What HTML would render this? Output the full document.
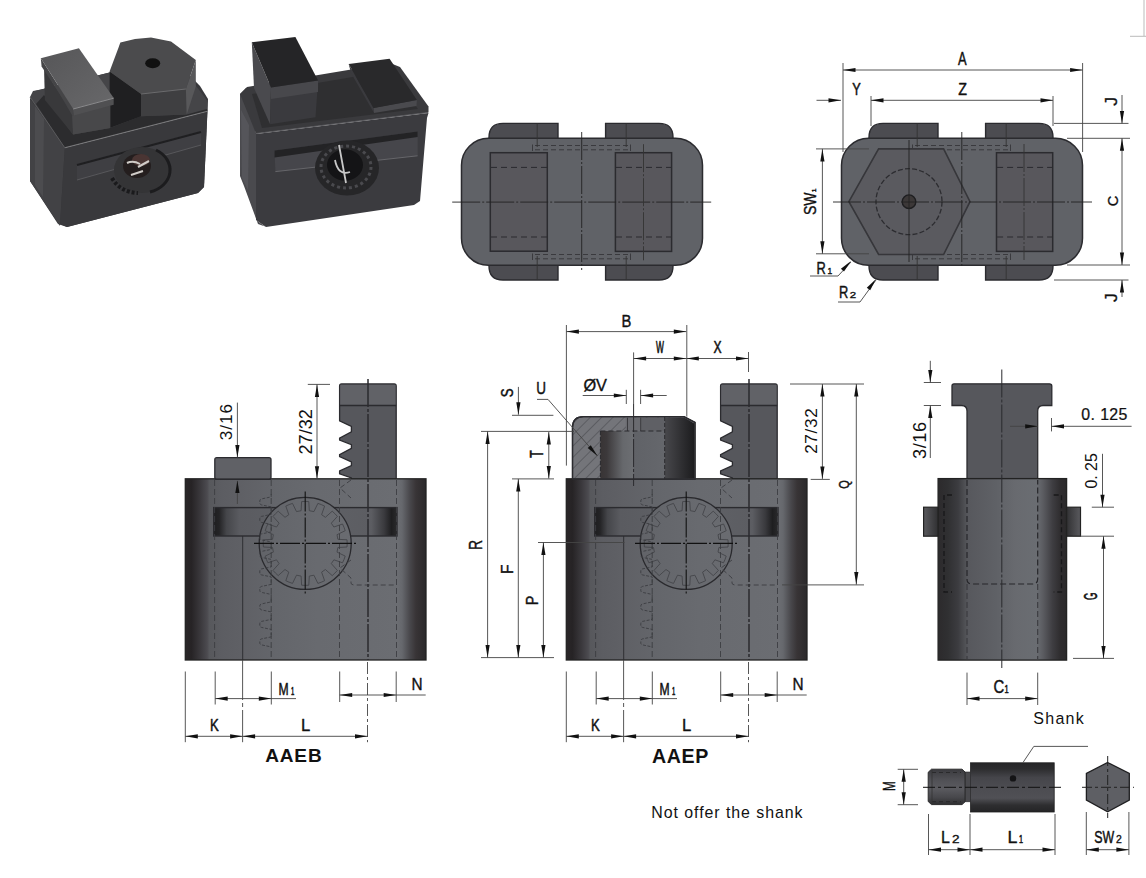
<!DOCTYPE html><html><head><meta charset="utf-8"><style>
html,body{margin:0;padding:0;background:#fff;}
svg{display:block;font-family:"Liberation Sans", sans-serif;}
</style></head><body>
<svg width="1146" height="878" viewBox="0 0 1146 878">
<rect width="1146" height="878" fill="#fff"/>
<defs>
<linearGradient id="bodyg" gradientUnits="userSpaceOnUse" x1="185.3" x2="426.0" y1="0" y2="0"><stop offset="0.0000" stop-color="#2a2628"/><stop offset="0.0249" stop-color="#262325"/><stop offset="0.0623" stop-color="#3a383c"/><stop offset="0.0914" stop-color="#4c4b50"/><stop offset="0.0997" stop-color="#57585c"/><stop offset="0.1496" stop-color="#5c5d62"/><stop offset="0.2300" stop-color="#5f6065"/><stop offset="0.3800" stop-color="#64666b"/><stop offset="0.5500" stop-color="#686a6f"/><stop offset="0.8837" stop-color="#6b6d72"/><stop offset="0.9003" stop-color="#66686d"/><stop offset="0.9335" stop-color="#48474b"/><stop offset="0.9585" stop-color="#383436"/><stop offset="1.0000" stop-color="#2b292b"/></linearGradient><linearGradient id="bodyg2" gradientUnits="userSpaceOnUse" x1="566.3" x2="807.0" y1="0" y2="0"><stop offset="0.0000" stop-color="#2a2628"/><stop offset="0.0249" stop-color="#262325"/><stop offset="0.0623" stop-color="#3a383c"/><stop offset="0.0914" stop-color="#4c4b50"/><stop offset="0.0997" stop-color="#57585c"/><stop offset="0.1496" stop-color="#5c5d62"/><stop offset="0.2300" stop-color="#5f6065"/><stop offset="0.3800" stop-color="#64666b"/><stop offset="0.5500" stop-color="#686a6f"/><stop offset="0.8837" stop-color="#6b6d72"/><stop offset="0.9003" stop-color="#66686d"/><stop offset="0.9335" stop-color="#48474b"/><stop offset="0.9585" stop-color="#383436"/><stop offset="1.0000" stop-color="#2b292b"/></linearGradient><linearGradient id="bodyg3" gradientUnits="userSpaceOnUse" x1="938.1" x2="1066.6" y1="0" y2="0"><stop offset="0.0000" stop-color="#2c2a2c"/><stop offset="0.0778" stop-color="#303032"/><stop offset="0.1556" stop-color="#3c3c40"/><stop offset="0.2101" stop-color="#505155"/><stop offset="0.2335" stop-color="#57585d"/><stop offset="0.4500" stop-color="#5f6166"/><stop offset="0.6000" stop-color="#686a6f"/><stop offset="0.7665" stop-color="#6a6d72"/><stop offset="0.8132" stop-color="#5c5d62"/><stop offset="0.8911" stop-color="#3e3d41"/><stop offset="0.9533" stop-color="#2e2c2e"/><stop offset="1.0000" stop-color="#2b292b"/></linearGradient>
<linearGradient id="slotg" x1="0" x2="1" y1="0" y2="0">
 <stop offset="0" stop-color="#1e1e20"/>
 <stop offset="0.03" stop-color="#242426"/>
 <stop offset="0.07" stop-color="#45464a"/>
 <stop offset="0.14" stop-color="#5a5b60"/>
 <stop offset="0.5" stop-color="#606267"/>
 <stop offset="0.86" stop-color="#5c5d62"/>
 <stop offset="0.93" stop-color="#3a3a3e"/>
 <stop offset="0.97" stop-color="#1e1e20"/>
 <stop offset="1" stop-color="#2a2a2c"/>
</linearGradient>
<linearGradient id="boreg" x1="0" x2="1" y1="0" y2="0">
 <stop offset="0" stop-color="#383435"/>
 <stop offset="0.1" stop-color="#3c393b"/>
 <stop offset="0.35" stop-color="#66686c"/>
 <stop offset="0.5" stop-color="#6c6e72"/>
 <stop offset="0.52" stop-color="#606267"/>
 <stop offset="1" stop-color="#65676c"/>
</linearGradient>
<linearGradient id="nutrg" x1="0" x2="1" y1="0" y2="0">
 <stop offset="0" stop-color="#48484c"/>
 <stop offset="1" stop-color="#1c1c1e"/>
</linearGradient>
<linearGradient id="shankg" x1="0" x2="0" y1="0" y2="1">
 <stop offset="0" stop-color="#262628"/>
 <stop offset="0.12" stop-color="#2c2c2e"/>
 <stop offset="0.3" stop-color="#45454a"/>
 <stop offset="0.5" stop-color="#4c4c51"/>
 <stop offset="0.72" stop-color="#505055"/>
 <stop offset="0.86" stop-color="#2e2e30"/>
 <stop offset="1" stop-color="#242426"/>
</linearGradient>
<linearGradient id="threadg" x1="0" x2="0" y1="0" y2="1">
 <stop offset="0" stop-color="#3a3a3e"/><stop offset="0.3" stop-color="#505055"/><stop offset="0.55" stop-color="#5a5a5f"/><stop offset="0.8" stop-color="#47474b"/><stop offset="1" stop-color="#2e2e30"/>
</linearGradient>
<linearGradient id="tabl" x1="0" x2="1" y1="0" y2="0"><stop offset="0" stop-color="#5a5a5e"/><stop offset="1" stop-color="#2e2e30"/></linearGradient>
<linearGradient id="tabr" x1="0" x2="1" y1="0" y2="0"><stop offset="0" stop-color="#2e2e30"/><stop offset="1" stop-color="#5a5a5e"/></linearGradient>
<pattern id="hatch" patternUnits="userSpaceOnUse" width="8" height="8" patternTransform="rotate(45)">
 <rect width="8" height="8" fill="#74757a"/>
 <line x1="0" y1="0" x2="0" y2="8" stroke="#45464b" stroke-width="1.1"/>
</pattern>
<linearGradient id="p1top" x1="0" x2="1" y1="0" y2="1">
 <stop offset="0" stop-color="#565658"/><stop offset="1" stop-color="#68686a"/>
</linearGradient>
</defs>
<g>
<polygon points="30.0,99.0 35.0,91.0 172.0,57.0 200.0,86.0 208.0,99.0 204.0,187.0 198.0,193.0 67.0,227.0 58.0,224.0 30.0,181.0" fill="#38383b" stroke="none" stroke-width="0" />
<polygon points="30.0,99.0 64.8,147.8 60.0,226.0 30.0,181.0" fill="#424245" stroke="none" stroke-width="0" />
<polygon points="35.0,106.0 44.0,119.0 43.0,197.0 35.0,185.0" fill="#4c4c4f" stroke="none" stroke-width="0" />
<polygon points="30.0,97.0 33.0,91.0 41.0,89.5 172.0,57.0 199.0,89.7 207.4,101.0 207.4,111.3 64.8,147.8" fill="#454548" stroke="none" stroke-width="0" />
<polygon points="44.0,95.0 73.0,134.5 110.0,128.0 141.0,116.3 186.7,114.6 207.0,109.0 207.4,111.3 64.8,147.8 36.0,104.0" fill="#2c2c2e" stroke="none" stroke-width="0" />
<line x1="64.8" y1="147.8" x2="207.4" y2="111.3" stroke="#78787a" stroke-width="1.2" />
<line x1="30.0" y1="97.0" x2="64.8" y2="147.8" stroke="#5a5a5c" stroke-width="1" />
<polygon points="64.8,148.5 207.4,112.0 204.0,187.0 198.0,193.0 67.0,227.0 60.0,224.0" fill="#39393c" stroke="none" stroke-width="0" />
<polygon points="77.0,164.0 201.0,131.0 201.0,145.0 77.0,180.0" fill="#3f3f43" stroke="none" stroke-width="0" />
<line x1="77.0" y1="165.0" x2="201.0" y2="132.0" stroke="#1f1f21" stroke-width="2.2" />
<line x1="77.0" y1="180.0" x2="201.0" y2="145.0" stroke="#5a5a5e" stroke-width="0.9" />
<ellipse cx="142" cy="170" rx="28" ry="23" fill="#343436"/>
<path d="M156,150 A28,23 0 0 1 150,192" fill="none" stroke="#1c1c1e" stroke-width="3"/>
<path d="M112,178 Q120,192 138,193" fill="none" stroke="#1a1a1c" stroke-width="4" stroke-dasharray="3 2"/>
<ellipse cx="137" cy="166" rx="14" ry="12" fill="#241e1e"/>
<ellipse cx="141" cy="160" rx="9" ry="6" fill="#4a3533"/>
<path d="M127,163 Q133,160 140,164 M138,167 L149,161 M131,175 L143,171" stroke="#d0ccc8" stroke-width="2" fill="none"/>
<polygon points="109.6,71.5 141.1,93.9 141.1,116.3 109.6,127.9" fill="#1f1f21" stroke="none" stroke-width="0" />
<polygon points="141.1,93.9 185.9,88.9 186.7,114.6 141.1,116.3" fill="#3f3f41" stroke="none" stroke-width="0" />
<polygon points="185.9,88.9 195.8,59.9 195.8,86.4 186.7,114.6" fill="#58585a" stroke="none" stroke-width="0" />
<polygon points="109.6,71.5 120.4,42.5 135.0,39.0 151.0,37.5 171.0,41.6 195.8,59.9 185.9,88.9 141.1,93.9" fill="#4b4b4d" stroke="none" stroke-width="0" />
<line x1="141.1" y1="94.0" x2="185.9" y2="89.0" stroke="#6a6a6c" stroke-width="1" />
<ellipse cx="152.7" cy="63.2" rx="7.5" ry="5" fill="#111"/>
<polygon points="44.0,67.3 72.3,115.4 73.1,134.5 44.9,100.0" fill="#39393b" stroke="none" stroke-width="0" />
<polygon points="72.3,115.4 110.4,105.5 110.4,127.9 73.1,134.5" fill="#48484a" stroke="none" stroke-width="0" />
<polygon points="40.8,58.2 73.1,108.8 73.9,115.4 41.6,66.5" fill="#454547" stroke="none" stroke-width="0" />
<polygon points="73.1,108.8 113.7,98.0 113.7,104.7 73.9,115.4" fill="#505052" stroke="none" stroke-width="0" />
<polygon points="40.8,58.2 78.9,48.3 113.7,98.0 73.1,108.8" fill="url(#p1top)" stroke="none" stroke-width="0" />
<line x1="73.1" y1="109.0" x2="113.7" y2="98.2" stroke="#8a8a8c" stroke-width="1" />
<polygon points="240.0,94.0 246.0,88.0 256.0,133.0 256.0,220.0 265.0,226.5 258.0,224.0 244.0,186.0 240.0,176.0" fill="#4a4a4e" stroke="none" stroke-width="0" />
<polygon points="241.0,110.0 249.0,125.0 248.0,190.0 242.0,178.0" fill="#55555a" stroke="none" stroke-width="0" />
<polygon points="240.0,94.0 247.0,87.0 390.0,63.0 400.0,67.0 428.5,106.5 428.5,112.5 256.0,133.5" fill="#3a3a3d" stroke="none" stroke-width="0" />
<polygon points="252.0,94.0 388.0,71.0 418.0,109.0 262.0,128.0" fill="#2f2f31" stroke="none" stroke-width="0" />
<line x1="256.0" y1="133.5" x2="428.0" y2="112.5" stroke="#5a5a5e" stroke-width="1.1" />
<polygon points="256.0,134.0 428.5,113.0 427.0,118.0 420.0,201.0 414.0,205.0 266.0,227.0 256.0,220.0" fill="#3b3b3f" stroke="none" stroke-width="0" />
<polygon points="274.5,150.6 417.6,131.4 417.6,155.8 275.4,171.6" fill="#46464b" stroke="none" stroke-width="0" />
<polygon points="274.5,150.6 417.6,131.4 417.6,137.0 274.5,157.5" fill="#232325" stroke="none" stroke-width="0" />
<line x1="275.4" y1="171.6" x2="417.6" y2="155.8" stroke="#66666a" stroke-width="1" />
<ellipse cx="347" cy="168" rx="32" ry="27.5" fill="#262628"/>
<ellipse cx="346" cy="167" rx="25" ry="21" fill="none" stroke="#4a4a4e" stroke-width="3" stroke-dasharray="3 3"/>
<ellipse cx="345" cy="165" rx="18" ry="15.7" fill="#141416"/>
<path d="M339,145 L346,183 M335,160 Q338,176 350,172" stroke="#c8c8c8" stroke-width="1.8" fill="none"/>
<polygon points="251.8,42.2 271.0,87.6 270.1,124.2 254.0,88.0" fill="#4a4a4e" stroke="none" stroke-width="0" />
<polygon points="271.0,87.6 318.1,80.6 315.5,117.3 270.1,124.2" fill="#3a3a3e" stroke="none" stroke-width="0" />
<polygon points="271.0,87.6 318.1,80.6 318.0,92.0 271.0,99.0" fill="#48484c" stroke="none" stroke-width="0" />
<polygon points="251.8,42.2 295.4,37.0 318.1,80.6 271.0,87.6" fill="#252527" stroke="none" stroke-width="0" />
<polygon points="348.7,64.0 373.6,108.0 374.0,113.0 351.0,73.0" fill="#3a3a3e" stroke="none" stroke-width="0" />
<polygon points="373.6,108.0 416.9,100.1 416.5,106.0 374.0,113.0" fill="#4a4a4e" stroke="none" stroke-width="0" />
<polygon points="348.7,64.0 389.6,58.7 416.9,100.1 373.6,108.0" fill="#29292b" stroke="none" stroke-width="0" />
</g>
<path d="M489.0,145 L489.0,137.4 Q489.0,123.4 503.0,123.4 L558.0,123.4 L558.0,145 Z" fill="#4c4c51" stroke="#2b2b2f" stroke-width="1.4"/>
<path d="M605.6,145 L605.6,123.4 L659.0,123.4 Q673.0,123.4 673.0,137.4 L673.0,145 Z" fill="#4c4c51" stroke="#2b2b2f" stroke-width="1.4"/>
<path d="M489.0,258 L489.0,266 Q489.0,280 503.0,280 L558.0,280 L558.0,258 Z" fill="#4c4c51" stroke="#2b2b2f" stroke-width="1.4"/>
<path d="M605.6,258 L605.6,280 L659.0,280 Q673.0,280 673.0,266 L673.0,258 Z" fill="#4c4c51" stroke="#2b2b2f" stroke-width="1.4"/>
<rect x="461.5" y="138.3" width="241" height="127" rx="27" ry="27" fill="#606267" stroke="#2b2b2f" stroke-width="1.5"/>
<line x1="535.0" y1="145.5" x2="628.0" y2="145.5" stroke="#3a3a3e" stroke-width="1" stroke-dasharray="5 3"/>
<line x1="535.0" y1="149.8" x2="628.0" y2="149.8" stroke="#3a3a3e" stroke-width="1" stroke-dasharray="5 3"/>
<line x1="535.0" y1="254.5" x2="628.0" y2="254.5" stroke="#3a3a3e" stroke-width="1" stroke-dasharray="5 3"/>
<line x1="535.0" y1="258.8" x2="628.0" y2="258.8" stroke="#3a3a3e" stroke-width="1" stroke-dasharray="5 3"/>
<line x1="532.5" y1="144.5" x2="532.5" y2="151.0" stroke="#3a3a3e" stroke-width="1" />
<line x1="630.5" y1="144.5" x2="630.5" y2="151.0" stroke="#3a3a3e" stroke-width="1" />
<line x1="532.5" y1="253.5" x2="532.5" y2="260.0" stroke="#3a3a3e" stroke-width="1" />
<line x1="630.5" y1="253.5" x2="630.5" y2="260.0" stroke="#3a3a3e" stroke-width="1" />
<line x1="537.2" y1="123.4" x2="537.2" y2="147.0" stroke="#333" stroke-width="0.9" />
<line x1="537.2" y1="256.0" x2="537.2" y2="280.0" stroke="#333" stroke-width="0.9" />
<line x1="626.2" y1="123.4" x2="626.2" y2="147.0" stroke="#333" stroke-width="0.9" />
<line x1="626.2" y1="256.0" x2="626.2" y2="280.0" stroke="#333" stroke-width="0.9" />
<rect x="615.4" y="152.7" width="56.2" height="98.7" fill="#58575c" stroke="#2b2b2f" stroke-width="1.5"/>
<line x1="616.0" y1="167.4" x2="671.0" y2="167.4" stroke="#2a2a2e" stroke-width="1" stroke-dasharray="6 4"/>
<line x1="616.0" y1="237.0" x2="671.0" y2="237.0" stroke="#2a2a2e" stroke-width="1" stroke-dasharray="6 4"/>
<rect x="490.3" y="152.7" width="57" height="98.5" fill="#58575c" stroke="#2b2b2f" stroke-width="1.5"/>
<line x1="491.0" y1="167.4" x2="547.0" y2="167.4" stroke="#2a2a2e" stroke-width="1" stroke-dasharray="6 4"/>
<line x1="491.0" y1="237.0" x2="547.0" y2="237.0" stroke="#2a2a2e" stroke-width="1" stroke-dasharray="6 4"/>
<line x1="452.2" y1="202.1" x2="711.2" y2="202.1" stroke="#222" stroke-width="0.9" stroke-dasharray="28 2 2 2"/>
<line x1="581.7" y1="132.0" x2="581.7" y2="270.0" stroke="#222" stroke-width="0.9" stroke-dasharray="28 2 2 2"/>
<line x1="643.5" y1="144.2" x2="643.5" y2="260.3" stroke="#333" stroke-width="0.9" stroke-dasharray="28 2 2 2"/>
<path d="M869.0,145 L869.0,137.4 Q869.0,123.4 883.0,123.4 L938.0,123.4 L938.0,145 Z" fill="#4c4c51" stroke="#2b2b2f" stroke-width="1.4"/>
<path d="M985.6,145 L985.6,123.4 L1039.0,123.4 Q1053.0,123.4 1053.0,137.4 L1053.0,145 Z" fill="#4c4c51" stroke="#2b2b2f" stroke-width="1.4"/>
<path d="M869.0,258 L869.0,266 Q869.0,280 883.0,280 L938.0,280 L938.0,258 Z" fill="#4c4c51" stroke="#2b2b2f" stroke-width="1.4"/>
<path d="M985.6,258 L985.6,280 L1039.0,280 Q1053.0,280 1053.0,266 L1053.0,258 Z" fill="#4c4c51" stroke="#2b2b2f" stroke-width="1.4"/>
<rect x="841.5" y="138.3" width="241" height="127" rx="27" ry="27" fill="#606267" stroke="#2b2b2f" stroke-width="1.5"/>
<line x1="915.0" y1="145.5" x2="1008.0" y2="145.5" stroke="#3a3a3e" stroke-width="1" stroke-dasharray="5 3"/>
<line x1="915.0" y1="149.8" x2="1008.0" y2="149.8" stroke="#3a3a3e" stroke-width="1" stroke-dasharray="5 3"/>
<line x1="915.0" y1="254.5" x2="1008.0" y2="254.5" stroke="#3a3a3e" stroke-width="1" stroke-dasharray="5 3"/>
<line x1="915.0" y1="258.8" x2="1008.0" y2="258.8" stroke="#3a3a3e" stroke-width="1" stroke-dasharray="5 3"/>
<line x1="912.5" y1="144.5" x2="912.5" y2="151.0" stroke="#3a3a3e" stroke-width="1" />
<line x1="1010.5" y1="144.5" x2="1010.5" y2="151.0" stroke="#3a3a3e" stroke-width="1" />
<line x1="912.5" y1="253.5" x2="912.5" y2="260.0" stroke="#3a3a3e" stroke-width="1" />
<line x1="1010.5" y1="253.5" x2="1010.5" y2="260.0" stroke="#3a3a3e" stroke-width="1" />
<line x1="917.2" y1="123.4" x2="917.2" y2="147.0" stroke="#333" stroke-width="0.9" />
<line x1="917.2" y1="256.0" x2="917.2" y2="280.0" stroke="#333" stroke-width="0.9" />
<line x1="1006.2" y1="123.4" x2="1006.2" y2="147.0" stroke="#333" stroke-width="0.9" />
<line x1="1006.2" y1="256.0" x2="1006.2" y2="280.0" stroke="#333" stroke-width="0.9" />
<rect x="996.5" y="152.7" width="56.2" height="98.7" fill="#58575c" stroke="#2b2b2f" stroke-width="1.5"/>
<line x1="997.1" y1="167.4" x2="1052.1" y2="167.4" stroke="#2a2a2e" stroke-width="1" stroke-dasharray="6 4"/>
<line x1="997.1" y1="237.0" x2="1052.1" y2="237.0" stroke="#2a2a2e" stroke-width="1" stroke-dasharray="6 4"/>
<polygon points="848.9,201.7 878.6,148.9 943.6,148.9 970.0,201.7 943.6,254.5 878.6,254.5" fill="#5a5a5f" stroke="#36363a" stroke-width="1.6" />
<circle cx="909" cy="201.7" r="33" fill="none" stroke="#2c2c30" stroke-width="1.3" stroke-dasharray="5 2.2"/>
<circle cx="909" cy="201.7" r="6.8" fill="#3c3838" stroke="#1e1e20" stroke-width="1.4"/>
<line x1="833.0" y1="202.0" x2="1092.0" y2="202.0" stroke="#222" stroke-width="0.9" stroke-dasharray="28 2 2 2"/>
<line x1="909.0" y1="140.0" x2="909.0" y2="262.0" stroke="#222" stroke-width="0.9" />
<line x1="961.8" y1="132.0" x2="961.8" y2="268.0" stroke="#222" stroke-width="0.9" stroke-dasharray="28 2 2 2"/>
<line x1="1024.0" y1="144.0" x2="1024.0" y2="260.0" stroke="#333" stroke-width="0.9" stroke-dasharray="28 2 2 2"/>
<line x1="843.0" y1="63.0" x2="843.0" y2="152.0" stroke="#444" stroke-width="0.9" />
<line x1="1082.6" y1="63.0" x2="1082.6" y2="152.0" stroke="#444" stroke-width="0.9" />
<line x1="843.0" y1="70.0" x2="1082.6" y2="70.0" stroke="#444" stroke-width="0.9" />
<polygon points="843.0,70.0 855.5,67.9 855.5,72.1" fill="#111"/>
<polygon points="1082.6,70.0 1070.1,72.1 1070.1,67.9" fill="#111"/>
<line x1="816.5" y1="100.3" x2="841.0" y2="100.3" stroke="#444" stroke-width="0.9" />
<polygon points="841.0,100.3 828.5,102.4 828.5,98.2" fill="#111"/>
<line x1="871.0" y1="96.0" x2="871.0" y2="126.0" stroke="#444" stroke-width="0.9" />
<line x1="1053.0" y1="96.0" x2="1053.0" y2="126.0" stroke="#444" stroke-width="0.9" />
<line x1="871.0" y1="100.3" x2="1053.0" y2="100.3" stroke="#444" stroke-width="0.9" />
<polygon points="871.0,100.3 883.5,98.2 883.5,102.4" fill="#111"/>
<polygon points="1053.0,100.3 1040.5,102.4 1040.5,98.2" fill="#111"/>
<line x1="1054.0" y1="123.4" x2="1128.5" y2="123.4" stroke="#444" stroke-width="0.9" />
<line x1="1067.0" y1="138.3" x2="1130.0" y2="138.3" stroke="#444" stroke-width="0.9" />
<line x1="1122.0" y1="95.0" x2="1122.0" y2="123.4" stroke="#444" stroke-width="0.9" />
<polygon points="1122.0,123.4 1119.9,110.9 1124.1,110.9" fill="#111"/>
<line x1="1122.0" y1="138.3" x2="1122.0" y2="265.0" stroke="#444" stroke-width="0.9" />
<polygon points="1122.0,138.3 1124.1,150.8 1119.9,150.8" fill="#111"/>
<polygon points="1122.0,265.0 1119.9,252.5 1124.1,252.5" fill="#111"/>
<line x1="1067.0" y1="265.0" x2="1130.0" y2="265.0" stroke="#444" stroke-width="0.9" />
<line x1="1054.0" y1="280.0" x2="1128.5" y2="280.0" stroke="#444" stroke-width="0.9" />
<line x1="1122.0" y1="280.0" x2="1122.0" y2="297.0" stroke="#444" stroke-width="0.9" />
<polygon points="1122.0,280.0 1124.1,292.5 1119.9,292.5" fill="#111"/>
<line x1="816.0" y1="148.9" x2="869.0" y2="148.9" stroke="#444" stroke-width="0.9" />
<line x1="816.0" y1="253.8" x2="869.0" y2="253.8" stroke="#444" stroke-width="0.9" />
<line x1="822.4" y1="148.9" x2="822.4" y2="253.8" stroke="#444" stroke-width="0.9" />
<polygon points="822.4,148.9 824.5,161.4 820.3,161.4" fill="#111"/>
<polygon points="822.4,253.8 820.3,241.3 824.5,241.3" fill="#111"/>
<line x1="810.0" y1="276.0" x2="838.0" y2="276.0" stroke="#444" stroke-width="0.9" />
<line x1="838.0" y1="276.0" x2="851.0" y2="262.0" stroke="#444" stroke-width="0.9" />
<polygon points="851.0,261.0 844.0,271.6 840.9,268.7" fill="#111"/>
<line x1="838.0" y1="302.0" x2="860.0" y2="302.0" stroke="#444" stroke-width="0.9" />
<line x1="860.0" y1="302.0" x2="876.0" y2="280.0" stroke="#444" stroke-width="0.9" />
<polygon points="876.0,279.0 870.2,290.3 866.8,287.7" fill="#111"/>
<line x1="1130.0" y1="36.3" x2="1146.0" y2="36.3" stroke="#bbb" stroke-width="1" />
<line x1="1144.0" y1="0.0" x2="1144.0" y2="36.0" stroke="#bbb" stroke-width="1" />
<path d="M339.6,386 Q339.6,384 341.6,384 L394.2,384 Q396.2,384 396.2,386 L396.2,479.5 L351.4,479.5 L351.4,477.9 L339.6,473.8 L339.6,471.0 L351.4,465.6 L351.4,462.0 L339.6,456.5 L339.6,454.6 L351.4,448.3 L351.4,444.6 L339.6,440.0 L339.6,438.2 L351.4,431.9 L351.4,426.4 L339.6,420.9 Z" fill="#56575c" stroke="#2b2b2f" stroke-width="1.3"/>
<rect x="340.3" y="384.7" width="55.2" height="20.8" fill="#616267"/>
<line x1="339.6" y1="405.5" x2="396.2" y2="405.5" stroke="#2b2b2f" stroke-width="1.4" />
<rect x="185.3" y="478.8" width="240.7" height="181.2" fill="url(#bodyg)" stroke="#222" stroke-width="1.3"/>
<rect x="213.7" y="507.6" width="183.3" height="28.4" fill="url(#slotg)" stroke="#2b2b2f" stroke-width="1.4"/>
<circle cx="305.2" cy="543.4" r="46" fill="url(#bodyg)" stroke="#2a2a2e" stroke-width="1.3"/>
<path d="M347.2,543.4 L347.0,547.0 L337.9,547.5 L337.0,552.1 L345.2,556.1 L344.0,559.5 L342.5,562.8 L333.9,559.8 L331.3,563.6 L337.4,570.4 L334.9,573.1 L332.2,575.6 L325.4,569.5 L321.6,572.1 L324.6,580.7 L321.3,582.2 L317.9,583.4 L313.9,575.2 L309.3,576.1 L308.8,585.2 L305.2,585.4 L301.6,585.2 L301.1,576.1 L296.5,575.2 L292.5,583.4 L289.1,582.2 L285.8,580.7 L288.8,572.1 L285.0,569.5 L278.2,575.6 L275.5,573.1 L273.0,570.4 L279.1,563.6 L276.5,559.8 L267.9,562.8 L266.4,559.5 L265.2,556.1 L273.4,552.1 L272.5,547.5 L263.4,547.0 L263.2,543.4 L263.4,539.8 L272.5,539.3 L273.4,534.7 L265.2,530.7 L266.4,527.3 L267.9,524.0 L276.5,527.0 L279.1,523.2 L273.0,516.4 L275.5,513.7 L278.2,511.2 L285.0,517.3 L288.8,514.7 L285.8,506.1 L289.1,504.6 L292.5,503.4 L296.5,511.6 L301.1,510.7 L301.6,501.6 L305.2,501.4 L308.8,501.6 L309.3,510.7 L313.9,511.6 L317.9,503.4 L321.3,504.6 L324.6,506.1 L321.6,514.7 L325.4,517.3 L332.2,511.2 L334.9,513.7 L337.4,516.4 L331.3,523.2 L333.9,527.0 L342.5,524.0 L344.0,527.3 L345.2,530.7 L337.0,534.7 L337.9,539.3 L347.0,539.8 Z" fill="none" stroke="#44454a" stroke-width="0.9"/>
<line x1="214.6" y1="480.0" x2="214.6" y2="659.0" stroke="#3c3d42" stroke-width="0.9" stroke-dasharray="6 3"/>
<line x1="271.2" y1="480.0" x2="271.2" y2="659.0" stroke="#3c3d42" stroke-width="0.9" stroke-dasharray="6 3"/>
<line x1="339.5" y1="480.0" x2="339.5" y2="659.0" stroke="#3c3d42" stroke-width="0.9" stroke-dasharray="6 3"/>
<line x1="396.5" y1="480.0" x2="396.5" y2="659.0" stroke="#3c3d42" stroke-width="0.9" stroke-dasharray="6 3"/>
<line x1="242.7" y1="536.0" x2="242.7" y2="660.0" stroke="#2a2a2e" stroke-width="0.9" />
<line x1="368.0" y1="379.0" x2="368.0" y2="660.0" stroke="#2a2a2e" stroke-width="1" stroke-dasharray="28 2 3 2"/>
<path d="M271.2,494 L271.2,496.9 L261.5,498.9 Q259.8,499.4 259.8,500.9 L259.8,502.9 Q259.8,504.4 261.5,504.9 L271.2,506.9 L271.2,514.4 L261.5,516.4 Q259.8,516.9 259.8,518.4 L259.8,520.4 Q259.8,521.9 261.5,522.4 L271.2,524.4 L271.2,531.9 L261.5,533.9 Q259.8,534.4 259.8,535.9 L259.8,537.9 Q259.8,539.4 261.5,539.9 L271.2,541.9 L271.2,549.4 L261.5,551.4 Q259.8,551.9 259.8,553.4 L259.8,555.4 Q259.8,556.9 261.5,557.4 L271.2,559.4 L271.2,566.9 L261.5,568.9 Q259.8,569.4 259.8,570.9 L259.8,572.9 Q259.8,574.4 261.5,574.9 L271.2,576.9 L271.2,584.4 L261.5,586.4 Q259.8,586.9 259.8,588.4 L259.8,590.4 Q259.8,591.9 261.5,592.4 L271.2,594.4 L271.2,601.9 L261.5,603.9 Q259.8,604.4 259.8,605.9 L259.8,607.9 Q259.8,609.4 261.5,609.9 L271.2,611.9 L271.2,619.4 L261.5,621.4 Q259.8,621.9 259.8,623.4 L259.8,625.4 Q259.8,626.9 261.5,627.4 L271.2,629.4 L271.2,636.9 L261.5,638.9 Q259.8,639.4 259.8,640.9 L259.8,642.9 Q259.8,644.4 261.5,644.9 L271.2,646.9" fill="none" stroke="#3c3d42" stroke-width="0.9" stroke-dasharray="3 1.5"/>
<path d="M351.0,480 L340.0,488 L351.0,498 M351.0,560 L340.0,568 L351.0,578 L351.0,583 Q351.0,585 355.0,585 L396.5,585" fill="none" stroke="#3c3d42" stroke-width="0.9" stroke-dasharray="5 3"/>
<line x1="254.0" y1="543.4" x2="358.0" y2="543.4" stroke="#111" stroke-width="1.1" stroke-dasharray="20 2 2 2"/>
<line x1="305.2" y1="491.6" x2="305.2" y2="595.3" stroke="#111" stroke-width="1.1" stroke-dasharray="20 2 2 2"/>
<line x1="368.0" y1="379.0" x2="368.0" y2="660.0" stroke="#2a2a2e" stroke-width="1" stroke-dasharray="28 2 3 2"/>
<line x1="185.3" y1="671.5" x2="185.3" y2="742.2" stroke="#444" stroke-width="0.9" />
<line x1="215.2" y1="671.5" x2="215.2" y2="704.5" stroke="#444" stroke-width="0.9" />
<line x1="271.3" y1="671.5" x2="271.3" y2="704.5" stroke="#444" stroke-width="0.9" />
<line x1="339.7" y1="671.5" x2="339.7" y2="702.0" stroke="#444" stroke-width="0.9" />
<line x1="396.2" y1="671.5" x2="396.2" y2="702.0" stroke="#444" stroke-width="0.9" />
<line x1="242.6" y1="660.0" x2="242.6" y2="742.2" stroke="#444" stroke-width="0.9" stroke-dasharray="40 3 4 3"/>
<line x1="367.5" y1="662.0" x2="367.5" y2="742.2" stroke="#444" stroke-width="0.9" stroke-dasharray="12 3 3 3"/>
<line x1="215.2" y1="698.6" x2="296.0" y2="698.6" stroke="#444" stroke-width="0.9" />
<polygon points="215.2,698.6 227.7,696.5 227.7,700.7" fill="#111"/>
<polygon points="271.3,698.6 258.8,700.7 258.8,696.5" fill="#111"/>
<line x1="339.7" y1="695.0" x2="425.7" y2="695.0" stroke="#444" stroke-width="0.9" />
<polygon points="339.7,695.0 352.2,692.9 352.2,697.1" fill="#111"/>
<polygon points="396.2,695.0 383.7,697.1 383.7,692.9" fill="#111"/>
<line x1="185.3" y1="736.3" x2="242.6" y2="736.3" stroke="#444" stroke-width="0.9" />
<polygon points="185.3,736.3 197.8,734.2 197.8,738.4" fill="#111"/>
<polygon points="242.6,736.3 230.1,738.4 230.1,734.2" fill="#111"/>
<line x1="242.6" y1="736.3" x2="367.5" y2="736.3" stroke="#444" stroke-width="0.9" />
<polygon points="242.6,736.3 255.1,734.2 255.1,738.4" fill="#111"/>
<polygon points="367.5,736.3 355.0,738.4 355.0,734.2" fill="#111"/>
<path d="M720.6,386 Q720.6,384 722.6,384 L775.2,384 Q777.2,384 777.2,386 L777.2,479.5 L732.4,479.5 L732.4,477.9 L720.6,473.8 L720.6,471.0 L732.4,465.6 L732.4,462.0 L720.6,456.5 L720.6,454.6 L732.4,448.3 L732.4,444.6 L720.6,440.0 L720.6,438.2 L732.4,431.9 L732.4,426.4 L720.6,420.9 Z" fill="#56575c" stroke="#2b2b2f" stroke-width="1.3"/>
<rect x="721.3" y="384.7" width="55.2" height="20.8" fill="#616267"/>
<line x1="720.6" y1="405.5" x2="777.2" y2="405.5" stroke="#2b2b2f" stroke-width="1.4" />
<rect x="566.3" y="478.8" width="240.7" height="181.2" fill="url(#bodyg2)" stroke="#222" stroke-width="1.3"/>
<rect x="594.7" y="507.6" width="183.3" height="28.4" fill="url(#slotg)" stroke="#2b2b2f" stroke-width="1.4"/>
<circle cx="686.2" cy="543.4" r="46" fill="url(#bodyg2)" stroke="#2a2a2e" stroke-width="1.3"/>
<path d="M728.2,543.4 L728.0,547.0 L718.9,547.5 L718.0,552.1 L726.2,556.1 L725.0,559.5 L723.5,562.8 L714.9,559.8 L712.3,563.6 L718.4,570.4 L715.9,573.1 L713.2,575.6 L706.4,569.5 L702.6,572.1 L705.6,580.7 L702.3,582.2 L698.9,583.4 L694.9,575.2 L690.3,576.1 L689.8,585.2 L686.2,585.4 L682.6,585.2 L682.1,576.1 L677.5,575.2 L673.5,583.4 L670.1,582.2 L666.8,580.7 L669.8,572.1 L666.0,569.5 L659.2,575.6 L656.5,573.1 L654.0,570.4 L660.1,563.6 L657.5,559.8 L648.9,562.8 L647.4,559.5 L646.2,556.1 L654.4,552.1 L653.5,547.5 L644.4,547.0 L644.2,543.4 L644.4,539.8 L653.5,539.3 L654.4,534.7 L646.2,530.7 L647.4,527.3 L648.9,524.0 L657.5,527.0 L660.1,523.2 L654.0,516.4 L656.5,513.7 L659.2,511.2 L666.0,517.3 L669.8,514.7 L666.8,506.1 L670.1,504.6 L673.5,503.4 L677.5,511.6 L682.1,510.7 L682.6,501.6 L686.2,501.4 L689.8,501.6 L690.3,510.7 L694.9,511.6 L698.9,503.4 L702.3,504.6 L705.6,506.1 L702.6,514.7 L706.4,517.3 L713.2,511.2 L715.9,513.7 L718.4,516.4 L712.3,523.2 L714.9,527.0 L723.5,524.0 L725.0,527.3 L726.2,530.7 L718.0,534.7 L718.9,539.3 L728.0,539.8 Z" fill="none" stroke="#44454a" stroke-width="0.9"/>
<line x1="595.6" y1="480.0" x2="595.6" y2="659.0" stroke="#3c3d42" stroke-width="0.9" stroke-dasharray="6 3"/>
<line x1="652.2" y1="480.0" x2="652.2" y2="659.0" stroke="#3c3d42" stroke-width="0.9" stroke-dasharray="6 3"/>
<line x1="720.5" y1="480.0" x2="720.5" y2="659.0" stroke="#3c3d42" stroke-width="0.9" stroke-dasharray="6 3"/>
<line x1="777.5" y1="480.0" x2="777.5" y2="659.0" stroke="#3c3d42" stroke-width="0.9" stroke-dasharray="6 3"/>
<line x1="623.7" y1="536.0" x2="623.7" y2="660.0" stroke="#2a2a2e" stroke-width="0.9" />
<line x1="749.0" y1="379.0" x2="749.0" y2="660.0" stroke="#2a2a2e" stroke-width="1" stroke-dasharray="28 2 3 2"/>
<path d="M652.2,494 L652.2,496.9 L642.5,498.9 Q640.8,499.4 640.8,500.9 L640.8,502.9 Q640.8,504.4 642.5,504.9 L652.2,506.9 L652.2,514.4 L642.5,516.4 Q640.8,516.9 640.8,518.4 L640.8,520.4 Q640.8,521.9 642.5,522.4 L652.2,524.4 L652.2,531.9 L642.5,533.9 Q640.8,534.4 640.8,535.9 L640.8,537.9 Q640.8,539.4 642.5,539.9 L652.2,541.9 L652.2,549.4 L642.5,551.4 Q640.8,551.9 640.8,553.4 L640.8,555.4 Q640.8,556.9 642.5,557.4 L652.2,559.4 L652.2,566.9 L642.5,568.9 Q640.8,569.4 640.8,570.9 L640.8,572.9 Q640.8,574.4 642.5,574.9 L652.2,576.9 L652.2,584.4 L642.5,586.4 Q640.8,586.9 640.8,588.4 L640.8,590.4 Q640.8,591.9 642.5,592.4 L652.2,594.4 L652.2,601.9 L642.5,603.9 Q640.8,604.4 640.8,605.9 L640.8,607.9 Q640.8,609.4 642.5,609.9 L652.2,611.9 L652.2,619.4 L642.5,621.4 Q640.8,621.9 640.8,623.4 L640.8,625.4 Q640.8,626.9 642.5,627.4 L652.2,629.4 L652.2,636.9 L642.5,638.9 Q640.8,639.4 640.8,640.9 L640.8,642.9 Q640.8,644.4 642.5,644.9 L652.2,646.9" fill="none" stroke="#3c3d42" stroke-width="0.9" stroke-dasharray="3 1.5"/>
<path d="M732.0,480 L721.0,488 L732.0,498 M732.0,560 L721.0,568 L732.0,578 L732.0,583 Q732.0,585 736.0,585 L777.5,585" fill="none" stroke="#3c3d42" stroke-width="0.9" stroke-dasharray="5 3"/>
<line x1="635.0" y1="543.4" x2="739.0" y2="543.4" stroke="#111" stroke-width="1.1" stroke-dasharray="20 2 2 2"/>
<line x1="686.2" y1="491.6" x2="686.2" y2="595.3" stroke="#111" stroke-width="1.1" stroke-dasharray="20 2 2 2"/>
<line x1="749.0" y1="379.0" x2="749.0" y2="660.0" stroke="#2a2a2e" stroke-width="1" stroke-dasharray="28 2 3 2"/>
<line x1="566.3" y1="671.5" x2="566.3" y2="742.2" stroke="#444" stroke-width="0.9" />
<line x1="596.2" y1="671.5" x2="596.2" y2="704.5" stroke="#444" stroke-width="0.9" />
<line x1="652.3" y1="671.5" x2="652.3" y2="704.5" stroke="#444" stroke-width="0.9" />
<line x1="720.7" y1="671.5" x2="720.7" y2="702.0" stroke="#444" stroke-width="0.9" />
<line x1="777.2" y1="671.5" x2="777.2" y2="702.0" stroke="#444" stroke-width="0.9" />
<line x1="623.6" y1="660.0" x2="623.6" y2="742.2" stroke="#444" stroke-width="0.9" stroke-dasharray="40 3 4 3"/>
<line x1="748.5" y1="662.0" x2="748.5" y2="742.2" stroke="#444" stroke-width="0.9" stroke-dasharray="12 3 3 3"/>
<line x1="596.2" y1="698.6" x2="677.0" y2="698.6" stroke="#444" stroke-width="0.9" />
<polygon points="596.2,698.6 608.7,696.5 608.7,700.7" fill="#111"/>
<polygon points="652.3,698.6 639.8,700.7 639.8,696.5" fill="#111"/>
<line x1="720.7" y1="695.0" x2="806.7" y2="695.0" stroke="#444" stroke-width="0.9" />
<polygon points="720.7,695.0 733.2,692.9 733.2,697.1" fill="#111"/>
<polygon points="777.2,695.0 764.7,697.1 764.7,692.9" fill="#111"/>
<line x1="566.3" y1="736.3" x2="623.6" y2="736.3" stroke="#444" stroke-width="0.9" />
<polygon points="566.3,736.3 578.8,734.2 578.8,738.4" fill="#111"/>
<polygon points="623.6,736.3 611.1,738.4 611.1,734.2" fill="#111"/>
<line x1="623.6" y1="736.3" x2="748.5" y2="736.3" stroke="#444" stroke-width="0.9" />
<polygon points="623.6,736.3 636.1,734.2 636.1,738.4" fill="#111"/>
<polygon points="748.5,736.3 736.0,738.4 736.0,734.2" fill="#111"/>
<line x1="307.8" y1="384.4" x2="330.0" y2="384.4" stroke="#444" stroke-width="0.9" />
<line x1="317.0" y1="384.4" x2="317.0" y2="478.8" stroke="#444" stroke-width="0.9" />
<polygon points="317.0,384.4 319.1,396.9 314.9,396.9" fill="#111"/>
<polygon points="317.0,478.8 314.9,466.3 319.1,466.3" fill="#111"/>
<line x1="822.4" y1="384.0" x2="822.4" y2="478.9" stroke="#444" stroke-width="0.9" />
<polygon points="822.4,384.0 824.5,396.5 820.3,396.5" fill="#111"/>
<polygon points="822.4,478.9 820.3,466.4 824.5,466.4" fill="#111"/>
<rect x="214.8" y="457.7" width="56.2" height="21.6" rx="2" fill="#606166" stroke="#2b2b2f" stroke-width="1.3"/>
<line x1="214.8" y1="479.2" x2="271.0" y2="479.2" stroke="#2b2b2f" stroke-width="1.3" />
<line x1="237.4" y1="402.6" x2="237.4" y2="457.4" stroke="#444" stroke-width="0.9" />
<polygon points="237.4,457.4 235.3,444.9 239.5,444.9" fill="#111"/>
<line x1="237.4" y1="481.0" x2="237.4" y2="504.0" stroke="#444" stroke-width="0.9" />
<polygon points="237.4,480.5 239.5,493.0 235.3,493.0" fill="#111"/>
<path d="M572.5,479 L572.5,427.5 Q572.5,416.6 583.5,416.6 L684,416.6 L695,422.5 L695,479 Z" fill="url(#hatch)" stroke="#2b2b2f" stroke-width="1.3"/>
<rect x="600.4" y="431" width="64.3" height="48" fill="url(#boreg)"/>
<path d="M664.7,417.5 L684,417.5 L694.3,423.5 L694.3,478.5 L664.7,478.5 Z" fill="url(#nutrg)"/>
<rect x="640.7" y="417.6" width="24" height="13.4" fill="#5f6065"/>
<rect x="625.8" y="417.6" width="14.9" height="13.4" fill="#6a6b70"/>
<line x1="627.5" y1="417.6" x2="627.5" y2="431.0" stroke="#3a3a3e" stroke-width="1" />
<line x1="640.7" y1="417.6" x2="640.7" y2="431.0" stroke="#3a3a3e" stroke-width="1" />
<line x1="600.4" y1="431.0" x2="664.7" y2="431.0" stroke="#2a2a2e" stroke-width="1" stroke-dasharray="5 3"/>
<line x1="600.4" y1="431.0" x2="600.4" y2="479.0" stroke="#2a2a2e" stroke-width="1" stroke-dasharray="4 2"/>
<line x1="664.7" y1="417.0" x2="664.7" y2="479.0" stroke="#2a2a2e" stroke-width="1" stroke-dasharray="4 2"/>
<path d="M572.5,479 L572.5,427.5 Q572.5,416.6 583.5,416.6 L684,416.6 L695,422.5 L695,479 Z" fill="none" stroke="#2b2b2f" stroke-width="1.3"/>
<line x1="633.6" y1="404.0" x2="633.6" y2="486.0" stroke="#2a2a2e" stroke-width="1" stroke-dasharray="28 2 3 2"/>
<line x1="686.8" y1="325.0" x2="686.8" y2="416.6" stroke="#444" stroke-width="0.9" />
<line x1="566.4" y1="325.0" x2="566.4" y2="465.6" stroke="#444" stroke-width="0.9" />
<line x1="566.4" y1="331.6" x2="686.3" y2="331.6" stroke="#444" stroke-width="0.9" />
<polygon points="566.4,331.6 578.9,329.5 578.9,333.7" fill="#111"/>
<polygon points="686.3,331.6 673.8,333.7 673.8,329.5" fill="#111"/>
<line x1="633.6" y1="352.4" x2="633.6" y2="404.0" stroke="#444" stroke-width="0.9" />
<line x1="633.6" y1="358.5" x2="686.3" y2="358.5" stroke="#444" stroke-width="0.9" />
<polygon points="633.6,358.5 646.1,356.4 646.1,360.6" fill="#111"/>
<polygon points="686.3,358.5 673.8,360.6 673.8,356.4" fill="#111"/>
<line x1="748.5" y1="352.0" x2="748.5" y2="372.0" stroke="#444" stroke-width="0.9" />
<line x1="686.3" y1="358.5" x2="748.5" y2="358.5" stroke="#444" stroke-width="0.9" />
<polygon points="686.3,358.5 698.8,356.4 698.8,360.6" fill="#111"/>
<polygon points="748.5,358.5 736.0,360.6 736.0,356.4" fill="#111"/>
<line x1="512.0" y1="415.3" x2="553.4" y2="415.3" stroke="#444" stroke-width="0.9" />
<line x1="518.4" y1="386.9" x2="518.4" y2="414.7" stroke="#444" stroke-width="0.9" />
<polygon points="518.4,414.7 516.3,402.2 520.5,402.2" fill="#111"/>
<line x1="537.0" y1="399.4" x2="548.0" y2="399.4" stroke="#444" stroke-width="0.9" />
<line x1="548.0" y1="399.4" x2="597.5" y2="456.0" stroke="#444" stroke-width="0.9" />
<polygon points="597.5,456.0 587.7,448.0 590.8,445.2" fill="#111"/>
<line x1="582.7" y1="395.5" x2="626.3" y2="395.5" stroke="#444" stroke-width="0.9" />
<polygon points="626.3,395.5 613.8,397.6 613.8,393.4" fill="#111"/>
<line x1="640.6" y1="395.5" x2="666.7" y2="395.5" stroke="#444" stroke-width="0.9" />
<polygon points="640.6,395.5 653.1,393.4 653.1,397.6" fill="#111"/>
<line x1="626.3" y1="389.8" x2="626.3" y2="404.0" stroke="#444" stroke-width="0.9" />
<line x1="640.6" y1="389.8" x2="640.6" y2="404.0" stroke="#444" stroke-width="0.9" />
<line x1="481.0" y1="431.4" x2="574.0" y2="431.4" stroke="#444" stroke-width="0.9" />
<line x1="548.8" y1="432.0" x2="548.8" y2="478.5" stroke="#444" stroke-width="0.9" />
<polygon points="548.8,432.0 550.9,444.5 546.7,444.5" fill="#111"/>
<polygon points="548.8,478.5 546.7,466.0 550.9,466.0" fill="#111"/>
<line x1="512.0" y1="478.9" x2="554.0" y2="478.9" stroke="#444" stroke-width="0.9" />
<line x1="487.6" y1="431.4" x2="487.6" y2="657.6" stroke="#444" stroke-width="0.9" />
<polygon points="487.6,431.4 489.7,443.9 485.5,443.9" fill="#111"/>
<polygon points="487.6,657.6 485.5,645.1 489.7,645.1" fill="#111"/>
<line x1="518.3" y1="478.9" x2="518.3" y2="657.6" stroke="#444" stroke-width="0.9" />
<polygon points="518.3,478.9 520.4,491.4 516.2,491.4" fill="#111"/>
<polygon points="518.3,657.6 516.2,645.1 520.4,645.1" fill="#111"/>
<line x1="538.0" y1="542.5" x2="624.5" y2="542.5" stroke="#444" stroke-width="0.9" />
<line x1="543.4" y1="542.4" x2="543.4" y2="657.6" stroke="#444" stroke-width="0.9" />
<polygon points="543.4,542.4 545.5,554.9 541.3,554.9" fill="#111"/>
<polygon points="543.4,657.6 541.3,645.1 545.5,645.1" fill="#111"/>
<line x1="481.0" y1="657.6" x2="554.0" y2="657.6" stroke="#444" stroke-width="0.9" />
<line x1="790.0" y1="384.0" x2="864.0" y2="384.0" stroke="#444" stroke-width="0.9" />
<line x1="810.7" y1="479.4" x2="829.8" y2="479.4" stroke="#444" stroke-width="0.9" />
<line x1="782.0" y1="584.9" x2="864.0" y2="584.9" stroke="#444" stroke-width="0.9" />
<line x1="856.3" y1="384.0" x2="856.3" y2="584.6" stroke="#444" stroke-width="0.9" />
<polygon points="856.3,384.0 858.4,396.5 854.2,396.5" fill="#111"/>
<polygon points="856.3,584.6 854.2,572.1 858.4,572.1" fill="#111"/>
<rect x="923.6" y="507.2" width="15" height="29" fill="url(#tabl)" stroke="#222" stroke-width="1.2"/>
<rect x="1065.5" y="507.2" width="15" height="29" fill="url(#tabr)" stroke="#222" stroke-width="1.2"/>
<path d="M952,405.5 L952,386 Q952,383.8 954,383.8 L1049.5,383.8 Q1051.8,383.8 1051.8,386 L1051.8,405.5 L1043,405.5 Q1037.7,405.5 1037.7,411 L1037.7,479 L967,479 L967,411 Q967,405.5 961.5,405.5 Z" fill="#56575c" stroke="#2b2b2f" stroke-width="1.3"/>
<rect x="938.1" y="478.6" width="128.5" height="181.5" fill="url(#bodyg3)" stroke="#222" stroke-width="1.3"/>
<path d="M967,480 L967,579 Q967,584 972,584 L1032.7,584 Q1037.7,584 1037.7,579 L1037.7,480" fill="none" stroke="#26262a" stroke-width="1.2" stroke-dasharray="6 3"/>
<line x1="967.0" y1="584.0" x2="967.0" y2="659.0" stroke="#3a3a3e" stroke-width="1.1" stroke-dasharray="6 3"/>
<line x1="1037.7" y1="584.0" x2="1037.7" y2="659.0" stroke="#3a3a3e" stroke-width="1.1" stroke-dasharray="6 3"/>
<path d="M952,495 L944,495 L944,592 L952,592" fill="none" stroke="#18181a" stroke-width="1.3" stroke-dasharray="5 3"/>
<path d="M1053.7,495 L1061.5,495 L1061.5,592 L1053.7,592" fill="none" stroke="#18181a" stroke-width="1.3" stroke-dasharray="5 3"/>
<line x1="1001.8" y1="369.5" x2="1001.8" y2="668.0" stroke="#2a2a2e" stroke-width="1" stroke-dasharray="28 2 3 2"/>
<line x1="923.8" y1="382.5" x2="941.0" y2="382.5" stroke="#444" stroke-width="0.9" />
<line x1="923.8" y1="405.5" x2="941.0" y2="405.5" stroke="#444" stroke-width="0.9" />
<line x1="930.3" y1="360.8" x2="930.3" y2="382.5" stroke="#444" stroke-width="0.9" />
<polygon points="930.3,382.5 928.2,370.0 932.4,370.0" fill="#111"/>
<line x1="930.3" y1="405.5" x2="930.3" y2="458.0" stroke="#444" stroke-width="0.9" />
<polygon points="930.3,405.5 932.4,418.0 928.2,418.0" fill="#111"/>
<line x1="1051.5" y1="418.0" x2="1051.5" y2="431.4" stroke="#444" stroke-width="0.9" />
<line x1="1051.5" y1="426.3" x2="1131.6" y2="426.3" stroke="#444" stroke-width="0.9" />
<polygon points="1051.5,426.3 1064.0,424.2 1064.0,428.4" fill="#111"/>
<line x1="1010.0" y1="426.3" x2="1037.7" y2="426.3" stroke="#444" stroke-width="0.9" />
<polygon points="1037.7,426.3 1025.2,428.4 1025.2,424.2" fill="#111"/>
<line x1="1091.8" y1="507.2" x2="1114.0" y2="507.2" stroke="#444" stroke-width="0.9" />
<line x1="1102.5" y1="453.8" x2="1102.5" y2="507.2" stroke="#444" stroke-width="0.9" />
<polygon points="1102.5,507.2 1100.4,494.7 1104.6,494.7" fill="#111"/>
<line x1="1073.0" y1="536.2" x2="1114.0" y2="536.2" stroke="#444" stroke-width="0.9" />
<line x1="1073.0" y1="658.4" x2="1114.0" y2="658.4" stroke="#444" stroke-width="0.9" />
<line x1="1103.5" y1="536.2" x2="1103.5" y2="658.4" stroke="#444" stroke-width="0.9" />
<polygon points="1103.5,536.2 1105.6,548.7 1101.4,548.7" fill="#111"/>
<polygon points="1103.5,658.4 1101.4,645.9 1105.6,645.9" fill="#111"/>
<line x1="967.0" y1="672.6" x2="967.0" y2="705.0" stroke="#444" stroke-width="0.9" />
<line x1="1037.7" y1="672.6" x2="1037.7" y2="705.0" stroke="#444" stroke-width="0.9" />
<line x1="967.0" y1="698.6" x2="1037.7" y2="698.6" stroke="#444" stroke-width="0.9" />
<polygon points="967.0,698.6 979.5,696.5 979.5,700.7" fill="#111"/>
<polygon points="1037.7,698.6 1025.2,700.7 1025.2,696.5" fill="#111"/>
<rect x="970.6" y="762.8" width="83.6" height="49.2" fill="url(#shankg)" stroke="#1e1e20" stroke-width="0.8"/>
<rect x="965" y="772" width="5.6" height="29.8" fill="#4a4a4e" stroke="#2a2a2c" stroke-width="0.6"/>
<path d="M931.5,769.2 L962,769.2 L965,772 L965,801.8 L962,804.6 L931.5,804.6 L928.2,801.5 L928.2,772.3 Z" fill="url(#threadg)" stroke="#2a2a2c" stroke-width="1"/>
<line x1="932.0" y1="772.5" x2="961.0" y2="772.5" stroke="#2a2a2c" stroke-width="1.1" stroke-dasharray="4 3"/>
<line x1="932.0" y1="801.6" x2="961.0" y2="801.6" stroke="#2a2a2c" stroke-width="1.1" stroke-dasharray="4 3"/>
<line x1="932.0" y1="770.0" x2="932.0" y2="804.0" stroke="#333" stroke-width="0.8" />
<circle cx="1013" cy="778.4" r="3.2" fill="#141416"/>
<line x1="923.0" y1="787.3" x2="1061.5" y2="787.3" stroke="#111" stroke-width="1" stroke-dasharray="12 3 3 3"/>
<line x1="1023.0" y1="762.5" x2="1033.8" y2="746.4" stroke="#444" stroke-width="0.9" />
<line x1="1033.8" y1="746.4" x2="1088.0" y2="746.4" stroke="#444" stroke-width="0.9" />
<line x1="897.7" y1="769.3" x2="918.0" y2="769.3" stroke="#444" stroke-width="0.9" />
<line x1="897.7" y1="804.7" x2="918.0" y2="804.7" stroke="#444" stroke-width="0.9" />
<line x1="903.7" y1="769.3" x2="903.7" y2="804.7" stroke="#444" stroke-width="0.9" />
<polygon points="903.7,769.3 905.8,781.8 901.6,781.8" fill="#111"/>
<polygon points="903.7,804.7 901.6,792.2 905.8,792.2" fill="#111"/>
<line x1="928.5" y1="814.0" x2="928.5" y2="855.0" stroke="#444" stroke-width="0.9" />
<line x1="970.0" y1="814.0" x2="970.0" y2="855.0" stroke="#444" stroke-width="0.9" />
<line x1="1055.0" y1="814.0" x2="1055.0" y2="855.0" stroke="#444" stroke-width="0.9" />
<line x1="928.5" y1="849.7" x2="970.0" y2="849.7" stroke="#444" stroke-width="0.9" />
<polygon points="928.5,849.7 941.0,847.6 941.0,851.8" fill="#111"/>
<polygon points="970.0,849.7 957.5,851.8 957.5,847.6" fill="#111"/>
<line x1="970.0" y1="849.7" x2="1055.0" y2="849.7" stroke="#444" stroke-width="0.9" />
<polygon points="970.0,849.7 982.5,847.6 982.5,851.8" fill="#111"/>
<polygon points="1055.0,849.7 1042.5,851.8 1042.5,847.6" fill="#111"/>
<polygon points="1107.6,762.5 1129.3,773.5 1129.3,800.0 1107.6,811.8 1086.4,800.0 1086.4,773.5" fill="#5e5f64" stroke="#1e1e20" stroke-width="1.3" />
<line x1="1082.0" y1="787.3" x2="1134.0" y2="787.3" stroke="#222" stroke-width="1" stroke-dasharray="10 3 3 3"/>
<line x1="1107.7" y1="756.0" x2="1107.7" y2="818.0" stroke="#222" stroke-width="1" stroke-dasharray="10 3 3 3"/>
<line x1="1086.3" y1="812.0" x2="1086.3" y2="855.0" stroke="#444" stroke-width="0.9" />
<line x1="1128.9" y1="812.0" x2="1128.9" y2="855.0" stroke="#444" stroke-width="0.9" />
<line x1="1086.3" y1="849.7" x2="1128.9" y2="849.7" stroke="#444" stroke-width="0.9" />
<polygon points="1086.3,849.7 1098.8,847.6 1098.8,851.8" fill="#111"/>
<polygon points="1128.9,849.7 1116.4,851.8 1116.4,847.6" fill="#111"/>
<text transform="matrix(0,-0.17920,0.16983,0,1116.66,105.70)" font-size="100.0" font-weight="normal" fill="#111" stroke="#111" stroke-width="2.06" stroke-linejoin="round">J</text>
<text transform="matrix(0,-0.14606,0.14901,0,1117.58,206.27)" font-size="100.0" font-weight="normal" fill="#111" stroke="#111" stroke-width="2.40" stroke-linejoin="round">C</text>
<text transform="matrix(0,-0.17920,0.16983,0,1116.66,302.10)" font-size="100.0" font-weight="normal" fill="#111" stroke="#111" stroke-width="2.06" stroke-linejoin="round">J</text>
<text transform="matrix(0,-0.14052,0.16455,0,815.66,215.06)" font-size="100.0" font-weight="normal" fill="#111" stroke="#111" stroke-width="2.49" stroke-linejoin="round">SW</text>
<text transform="matrix(0,-0.06842,0.06032,0,815.83,192.15)" font-size="100.0" font-weight="normal" fill="#111" stroke="#111" stroke-width="5.80" stroke-linejoin="round">1</text>
<text transform="matrix(0,-0.18111,0.18111,0,312.02,454.61)" font-size="100.0" font-weight="normal" fill="#111" letter-spacing="0.28">27/32</text>
<text transform="matrix(0,-0.17157,0.17157,0,231.63,440.25)" font-size="100.0" font-weight="normal" fill="#111" letter-spacing="5.47">3/16</text>
<text transform="matrix(0,-0.13289,0.16313,0,512.87,397.23)" font-size="100.0" font-weight="normal" fill="#111" stroke="#111" stroke-width="2.63" stroke-linejoin="round">S</text>
<text transform="matrix(0,-0.12468,0.17660,0,543.23,457.81)" font-size="100.0" font-weight="normal" fill="#111" stroke="#111" stroke-width="2.81" stroke-linejoin="round">T</text>
<text transform="matrix(0,-0.13895,0.17660,0,481.93,550.06)" font-size="100.0" font-weight="normal" fill="#111" stroke="#111" stroke-width="2.52" stroke-linejoin="round">R</text>
<text transform="matrix(0,-0.15652,0.16933,0,512.73,574.11)" font-size="100.0" font-weight="normal" fill="#111" stroke="#111" stroke-width="2.24" stroke-linejoin="round">F</text>
<text transform="matrix(0,-0.14186,0.16788,0,537.73,605.29)" font-size="100.0" font-weight="normal" fill="#111" stroke="#111" stroke-width="2.47" stroke-linejoin="round">P</text>
<text transform="matrix(0,-0.17157,0.17157,0,816.53,453.86)" font-size="100.0" font-weight="normal" fill="#111" letter-spacing="3.92">27/32</text>
<text transform="matrix(0,-0.11060,0.14371,0,848.51,488.65)" font-size="100.0" font-weight="normal" fill="#111" stroke="#111" stroke-width="3.16" stroke-linejoin="round">Q</text>
<text transform="matrix(0,-0.18247,0.18247,0,926.02,458.99)" font-size="100.0" font-weight="normal" fill="#111" letter-spacing="3.07">3/16</text>
<text transform="matrix(0,-0.15958,0.16949,0,1097.23,488.62)" font-size="100.0" font-weight="normal" fill="#111">0. 25</text>
<text transform="matrix(0,-0.09574,0.17585,0,1097.45,599.91)" font-size="100.0" font-weight="normal" fill="#111" stroke="#111" stroke-width="3.66" stroke-linejoin="round">G</text>
<text transform="matrix(0,-0.11735,0.17369,0,894.93,790.99)" font-size="100.0" font-weight="normal" fill="#111" stroke="#111" stroke-width="2.98" stroke-linejoin="round">M</text>
<text transform="matrix(0.12894,0,0,0.17951,957.95,64.73)" font-size="100.0" font-weight="normal" fill="#111" stroke="#111" stroke-width="2.71" stroke-linejoin="round">A</text>
<text transform="matrix(0.12760,0,0,0.17224,852.29,95.23)" font-size="100.0" font-weight="normal" fill="#111" stroke="#111" stroke-width="2.74" stroke-linejoin="round">Y</text>
<text transform="matrix(0.14329,0,0,0.17224,958.22,95.23)" font-size="100.0" font-weight="normal" fill="#111" stroke="#111" stroke-width="2.44" stroke-linejoin="round">Z</text>
<text transform="matrix(0.12884,0,0,0.15771,816.62,274.22)" font-size="100.0" font-weight="normal" fill="#111" stroke="#111" stroke-width="2.72" stroke-linejoin="round">R</text>
<text transform="matrix(0.08466,0,0,0.09230,827.43,274.22)" font-size="100.0" font-weight="normal" fill="#111" stroke="#111" stroke-width="4.13" stroke-linejoin="round">1</text>
<text transform="matrix(0.12884,0,0,0.15771,838.92,298.12)" font-size="100.0" font-weight="normal" fill="#111" stroke="#111" stroke-width="2.72" stroke-linejoin="round">R</text>
<text transform="matrix(0.11524,0,0,0.08665,849.80,298.12)" font-size="100.0" font-weight="normal" fill="#111" stroke="#111" stroke-width="4.04" stroke-linejoin="round">2</text>
<text transform="matrix(0.14749,0,0,0.16788,621.57,326.52)" font-size="100.0" font-weight="normal" fill="#111" stroke="#111" stroke-width="2.37" stroke-linejoin="round">B</text>
<text transform="matrix(0.08386,0,0,0.17224,656.04,352.72)" font-size="100.0" font-weight="normal" fill="#111" stroke="#111" stroke-width="4.17" stroke-linejoin="round">W</text>
<text transform="matrix(0.12108,0,0,0.17224,713.50,352.72)" font-size="100.0" font-weight="normal" fill="#111" stroke="#111" stroke-width="2.89" stroke-linejoin="round">X</text>
<text transform="matrix(0.13471,0,0,0.16553,536.24,393.56)" font-size="100.0" font-weight="normal" fill="#111" stroke="#111" stroke-width="2.60" stroke-linejoin="round">U</text>
<text transform="matrix(0.16326,0,0,0.15572,583.41,391.02)" font-size="100.0" font-weight="normal" fill="#111" stroke="#111" stroke-width="2.25" stroke-linejoin="round">ØV</text>
<text transform="matrix(0.12183,0,0,0.16497,278.58,695.03)" font-size="100.0" font-weight="normal" fill="#111" stroke="#111" stroke-width="2.87" stroke-linejoin="round">M</text>
<text transform="matrix(0.05914,0,0,0.10683,291.02,695.03)" font-size="100.0" font-weight="normal" fill="#111" stroke="#111" stroke-width="5.92" stroke-linejoin="round">1</text>
<text transform="matrix(0.15306,0,0,0.16497,411.62,690.12)" font-size="100.0" font-weight="normal" fill="#111" stroke="#111" stroke-width="2.29" stroke-linejoin="round">N</text>
<text transform="matrix(0.13159,0,0,0.16352,209.90,730.62)" font-size="100.0" font-weight="normal" fill="#111" stroke="#111" stroke-width="2.66" stroke-linejoin="round">K</text>
<text transform="matrix(0.16670,0,0,0.16352,300.91,730.62)" font-size="100.0" font-weight="normal" fill="#111" stroke="#111" stroke-width="2.14" stroke-linejoin="round">L</text>
<text transform="matrix(0.12183,0,0,0.16497,659.58,695.03)" font-size="100.0" font-weight="normal" fill="#111" stroke="#111" stroke-width="2.87" stroke-linejoin="round">M</text>
<text transform="matrix(0.05914,0,0,0.10683,672.02,695.03)" font-size="100.0" font-weight="normal" fill="#111" stroke="#111" stroke-width="5.92" stroke-linejoin="round">1</text>
<text transform="matrix(0.15306,0,0,0.16497,792.62,690.12)" font-size="100.0" font-weight="normal" fill="#111" stroke="#111" stroke-width="2.29" stroke-linejoin="round">N</text>
<text transform="matrix(0.13159,0,0,0.16352,590.90,730.62)" font-size="100.0" font-weight="normal" fill="#111" stroke="#111" stroke-width="2.66" stroke-linejoin="round">K</text>
<text transform="matrix(0.16670,0,0,0.16352,681.91,730.62)" font-size="100.0" font-weight="normal" fill="#111" stroke="#111" stroke-width="2.14" stroke-linejoin="round">L</text>
<text transform="matrix(0.19041,0,0,0.19041,265.13,761.80)" font-size="100.0" font-weight="bold" fill="#111" letter-spacing="4.53">AAEB</text>
<text transform="matrix(0.19622,0,0,0.19622,652.11,762.50)" font-size="100.0" font-weight="bold" fill="#111" letter-spacing="2.79">AAEP</text>
<text transform="matrix(0.15932,0,0,0.15932,651.29,818.04)" font-size="100.0" font-weight="normal" fill="#111" letter-spacing="5.92">Not offer the shank</text>
<text transform="matrix(0.15890,0,0,0.15890,1081.30,420.32)" font-size="100.0" font-weight="normal" fill="#111" stroke="#111" stroke-width="1.57" stroke-linejoin="round" letter-spacing="2.47">0. 125</text>
<text transform="matrix(0.14922,0,0,0.17585,993.42,692.95)" font-size="100.0" font-weight="normal" fill="#111" stroke="#111" stroke-width="2.35" stroke-linejoin="round">C</text>
<text transform="matrix(0.07538,0,0,0.10102,1004.60,693.12)" font-size="100.0" font-weight="normal" fill="#111" stroke="#111" stroke-width="4.64" stroke-linejoin="round">1</text>
<text transform="matrix(0.16068,0,0,0.16068,1033.27,723.54)" font-size="100.0" font-weight="normal" fill="#111" letter-spacing="7.85">Shank</text>
<text transform="matrix(0.15989,0,0,0.16352,941.06,843.43)" font-size="100.0" font-weight="normal" fill="#111" stroke="#111" stroke-width="2.19" stroke-linejoin="round">L</text>
<text transform="matrix(0.13500,0,0,0.11099,951.90,843.43)" font-size="100.0" font-weight="normal" fill="#111" stroke="#111" stroke-width="3.15" stroke-linejoin="round">2</text>
<text transform="matrix(0.17804,0,0,0.16352,1007.51,843.43)" font-size="100.0" font-weight="normal" fill="#111" stroke="#111" stroke-width="2.14" stroke-linejoin="round">L</text>
<text transform="matrix(0.07306,0,0,0.11265,1018.92,843.43)" font-size="100.0" font-weight="normal" fill="#111" stroke="#111" stroke-width="4.79" stroke-linejoin="round">1</text>
<text transform="matrix(0.12388,0,0,0.15890,1094.31,843.27)" font-size="100.0" font-weight="normal" fill="#111" stroke="#111" stroke-width="2.83" stroke-linejoin="round">SW</text>
<text transform="matrix(0.10427,0,0,0.11099,1115.95,843.43)" font-size="100.0" font-weight="normal" fill="#111" stroke="#111" stroke-width="3.36" stroke-linejoin="round">2</text>
</svg></body></html>
